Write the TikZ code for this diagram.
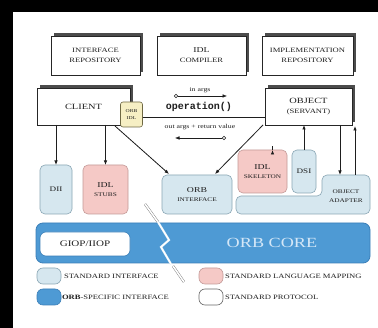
\documentclass[tikz,border=0pt]{standalone}
\usepackage{fontspec}
\setmainfont{Liberation Serif}
\newfontfamily\wide{Liberation Serif}[FakeStretch=1.3]
\newfontfamily\opfont{Liberation Mono}
\usetikzlibrary{arrows.meta,shadows,calc}
\newcommand\fsz[2]{\fontsize{#1}{#2}\selectfont}
\definecolor{iffill}{HTML}{D6E7EF}
\definecolor{ifline}{HTML}{8AA6B4}
\definecolor{mapfill}{HTML}{F5C9C6}
\definecolor{mapline}{HTML}{C49A98}
\definecolor{corefill}{HTML}{4E9AD4}
\definecolor{coreline}{HTML}{3B7FB8}
\definecolor{idlfill}{HTML}{F6EFC4}
\definecolor{idlline}{HTML}{6E6843}
\definecolor{coretext}{HTML}{D4E7F7}
\definecolor{ink}{HTML}{1E1E1E}
\begin{document}
\begin{tikzpicture}[x=1pt,y=-1pt,
  every node/.style={inner sep=0pt, outer sep=0pt, align=center, font=\wide, text=ink},
  shbox/.style={draw=black!85, line width=0.6pt, fill=white,
    general shadow={fill=black!70, shadow xshift=2.5pt, shadow yshift=2.5pt}},
  ifbox/.style={draw=ifline, fill=iffill, rounded corners=5pt, line width=0.6pt},
  mapbox/.style={draw=mapline, fill=mapfill, rounded corners=5pt, line width=0.6pt},
  pill/.style={rounded corners=6pt, line width=0.6pt, minimum width=24pt, minimum height=16pt},
  arr/.style={line width=0.8pt, draw=ink, -{Latex[length=4.5pt,width=3.6pt]}},
  brk/.style={draw=black!55, double=white, double distance=1.6pt, line width=0.4pt},
  small/.style={font=\wide\fsz{6.6}{10}},
  tiny/.style={font=\wide\fsz{5.6}{8.5}},
  legend/.style={anchor=west, font=\wide\fsz{6.6}{7}}]

% page frame
\useasboundingbox (0,0) rectangle (378,328);
\fill[white] (0,0) rectangle (378,328);
\fill[black] (0,0) rectangle (378,12);
\fill[black] (0,0) rectangle (13,328);

% tools row
\node[shbox, small, minimum width=89pt, minimum height=39pt] (ir) at (95.5,55.5)
  {INTERFACE\\REPOSITORY};
\node[shbox, small, minimum width=89pt, minimum height=39pt] (idlc) at (201.5,55.5)
  {{\fsz{7.5}{10}IDL}\\COMPILER};
\node[shbox, small, minimum width=91pt, minimum height=39pt] (impl) at (307.5,55.5)
  {IMPLEMENTATION\\REPOSITORY};

% client and servant
\node[shbox, font=\wide\fsz{8}{9}, minimum width=93pt, minimum height=37pt] (client) at (83.5,106.5)
  {CLIENT};
\node[shbox, small, minimum width=87pt, minimum height=37pt] (object) at (308.5,106.5)
  {{\fsz{8}{11}OBJECT}\\(SERVANT)};
\node[draw=idlline, fill=idlfill, rounded corners=2.5pt, line width=0.6pt,
  font=\wide\fsz{4.4}{7}, minimum width=22pt, minimum height=25pt] (orbidl) at (131.5,114.5)
  {ORB\\IDL};

% request line between client and object
\coordinate (req) at (200,117);
\draw[line width=0.7pt, draw=ink] (orbidl.east |- req) -- (object.west |- req);
\node[font=\wide\fsz{6}{7}] (inargs) at (200,90) {in args};
\node[circle, draw=ink, fill=white, line width=0.5pt, minimum size=3.4pt] (inc) at (176,96) {};
\coordinate (inend) at (227,96);
\draw[arr, line width=0.6pt] (inc) -- (inend);
\node[font=\opfont\bfseries\fsz{10}{11}] (op) at (199,107) {operation()};
\node[font=\wide\fsz{6}{7}] (outargs) at (200,127) {out args + return value};
\node[circle, draw=ink, fill=white, line width=0.5pt, minimum size=3.4pt] (outc) at (224,138) {};
\coordinate (outend) at (175,138);
\draw[arr, line width=0.6pt] (outc) -- (outend);

% interfaces
\node[ifbox, font=\wide\fsz{7}{8}, minimum width=32pt, minimum height=49pt] (dii) at (56,189.5)
  {DII};
\node[mapbox, tiny, minimum width=45pt, minimum height=49pt] (stubs) at (105.5,189.5)
  {{\fsz{7.5}{10}IDL}\\STUBS};
\node[ifbox, tiny, minimum width=70pt, minimum height=39pt] (orbif) at (197,194.5)
  {{\fsz{7.5}{10}ORB}\\INTERFACE};
\node[mapbox, tiny, minimum width=49pt, minimum height=43pt] (skel) at (262.5,171.5)
  {{\fsz{7.5}{10}IDL}\\SKELETON};
\node[ifbox, font=\wide\fsz{7}{8}, minimum width=24pt, minimum height=43pt] (dsi) at (304,171.5)
  {DSI};
\draw[ifbox] (236,196) -- (322,196) -- (322,175) -- (370,175) -- (370,214) -- (236,214) -- cycle;
\node[tiny] (oa) at (346,196) {OBJECT\\ADAPTER};
\coordinate (oain) at (340,175);
\coordinate (oaout) at (355,175);

% ORB core
\node[draw=coreline, fill=corefill, rounded corners=7pt, line width=0.8pt,
  minimum width=334pt, minimum height=40pt] (core) at (203,243) {};
\node[draw=coreline, fill=white, rounded corners=6pt, line width=0.6pt,
  font=\wide\fsz{8.5}{9}, minimum width=90pt, minimum height=24pt] (giop) at (85,244)
  {GIOP/IIOP};
\node[text=coretext, font=\wide\fsz{14}{15}] (coretxt) at (272,243) {ORB CORE};

% connectors
\draw[arr] (client.south -| dii.north) -- (dii.north);
\draw[arr] (client.south -| stubs.north) -- (stubs.north);
\draw[arr] ($(client.south east)+(-15,1)$) -- ($(orbif.north west)+(7,-1)$);
\draw[arr] ($(object.south west)+(-2,0)$) -- ($(orbif.north east)+(-17,-1)$);
\draw[arr] ($(skel.north)+(10,0)$) -- ($(skel.north)+(10,0)$ |- object.south);
\draw[arr] (dsi.north) -- (dsi.north |- object.south);
\draw[arr] (object.south -| oain) -- (oain);
\draw[arr] (oaout) -- ($(object.south -| oaout)+(0,1)$);

% break mark
\coordinate (z1) at (145,204);
\coordinate (z2) at (158,222);
\coordinate (z3) at (169,240);
\coordinate (z4) at (161,247);
\coordinate (z5) at (171,264);
\coordinate (z6) at (173,266);
\coordinate (z7) at (184,282);
\draw[brk] (z1) -- (z2);
\draw[draw=white!70!corefill, double=white, double distance=1.4pt, line width=0.4pt, line join=miter]
  (z2) -- (z3) -- (z4) -- (z5);
\draw[brk] (z6) -- (z7);

% legend
\node[pill, draw=ifline, fill=iffill] (lg1) at (49,276) {};
\node[legend] (lt1) at (64,276) {STANDARD INTERFACE};
\node[pill, draw=mapline, fill=mapfill] (lg2) at (211,276) {};
\node[legend] (lt2) at (225,276) {STANDARD LANGUAGE MAPPING};
\node[pill, draw=coreline, fill=corefill] (lg3) at (49,297) {};
\node[legend] (lt3) at (62,297) {{\bfseries ORB}-SPECIFIC INTERFACE};
\node[pill, draw=black!60, fill=white] (lg4) at (211,297) {};
\node[legend] (lt4) at (225,297) {STANDARD PROTOCOL};
\end{tikzpicture}
\end{document}
